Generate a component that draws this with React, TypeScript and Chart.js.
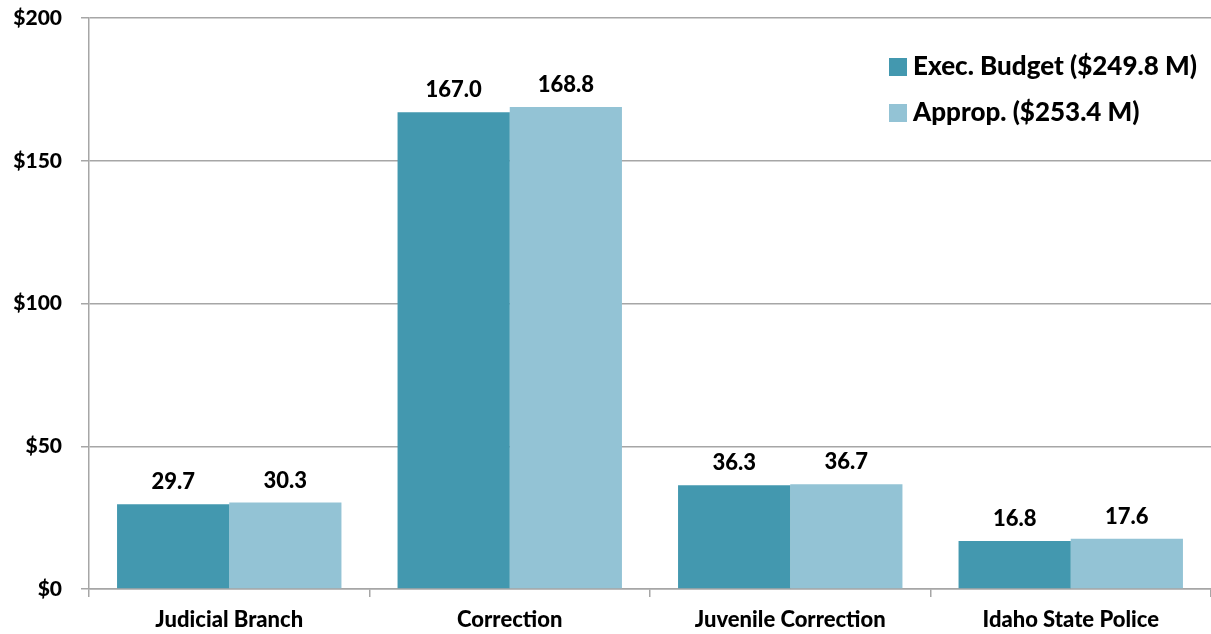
import React, { useEffect, useRef } from 'react';
import { Chart, registerables } from 'chart.js';

Chart.register(...registerables);

const categories = ['Judicial Branch', 'Correction', 'Juvenile Correction', 'Idaho State Police'];
const execBudget = [29.7, 167.0, 36.3, 16.8];
const appropValues = [30.3, 168.8, 36.7, 17.6];
const seriesNames = ['Exec. Budget ($249.8 M)', 'Approp. ($253.4 M)'];
const seriesColors = ['#4398AF', '#93C3D5'];
const yMin = 0;
const yMax = 200;
const yStep = 50;

const FONT = 'Lato';
const WEIGHT = '900';
const GRID = '#A6A6A6';

const valueLabels = {
  id: 'valueLabels',
  afterDatasetsDraw(chart: any) {
    const ctx = chart.ctx;
    ctx.save();
    ctx.font = `${WEIGHT} 22px ${FONT}`;
    ctx.fillStyle = '#000';
    ctx.textAlign = 'center';
    ctx.textBaseline = 'middle';
    chart.data.datasets.forEach((ds: any, i: number) => {
      const meta = chart.getDatasetMeta(i);
      meta.data.forEach((el: any, j: number) => {
        ctx.fillText(Number(ds.data[j]).toFixed(1), el.x, el.y - 22);
      });
    });
    ctx.restore();
  },
};

const insideLegend = {
  id: 'insideLegend',
  afterDraw(chart: any) {
    const ctx = chart.ctx;
    ctx.save();
    ctx.font = `${WEIGHT} 26px ${FONT}`;
    ctx.textBaseline = 'middle';
    ctx.textAlign = 'left';
    const x0 = 889;
    const rows = [67, 113];
    chart.data.datasets.forEach((ds: any, i: number) => {
      const cy = rows[i];
      ctx.fillStyle = ds.backgroundColor;
      ctx.fillRect(x0, cy - 9, 18, 18);
      ctx.fillStyle = '#000';
      ctx.fillText(ds.label, x0 + 24, cy);
    });
    ctx.restore();
  },
};

export default function App() {
  const ref = useRef<HTMLCanvasElement>(null);
  useEffect(() => {
    document.body.style.margin = '0';
    const canvas = ref.current;
    if (!canvas) return;
    const chart = new Chart(canvas, {
      type: 'bar',
      data: {
        labels: categories,
        datasets: [
          { label: seriesNames[0], data: execBudget, backgroundColor: seriesColors[0], categoryPercentage: 0.8, barPercentage: 1.0 },
          { label: seriesNames[1], data: appropValues, backgroundColor: seriesColors[1], categoryPercentage: 0.8, barPercentage: 1.0 },
        ],
      },
      options: {
        responsive: false,
        animation: false,
        layout: { padding: { top: 18, right: 0, left: 0, bottom: 0 } },
        plugins: { legend: { display: false }, tooltip: { enabled: false } },
        scales: {
          x: {
            grid: { display: true, drawOnChartArea: false, drawTicks: true, tickLength: 8, color: GRID, lineWidth: 1.5, offset: true },
            border: { display: true, color: GRID, width: 1.5 },
            ticks: { color: '#000', font: { family: FONT, weight: WEIGHT, size: 22 }, padding: 10, maxRotation: 0 },
            afterFit(scale: any) { scale.height = 45; scale.paddingLeft = 0; scale.paddingRight = 0; },
          },
          y: {
            min: yMin,
            max: yMax,
            grid: { color: GRID, lineWidth: 1.5, tickLength: 8 },
            border: { display: true, color: GRID, width: 1.5 },
            ticks: {
              stepSize: yStep,
              color: '#000',
              padding: 19,
              font: { family: FONT, weight: WEIGHT, size: 21 },
              callback: (v: any) => '$' + v,
            },
            afterFit(scale: any) { scale.width = 89; scale.paddingTop = 0; scale.paddingBottom = 0; },
          },
        },
      },
      plugins: [valueLabels, insideLegend],
    });
    return () => chart.destroy();
  }, []);
  return (
    <div style={{ position: 'absolute', left: 0, top: 0, width: 1211, height: 634 }}>
      <canvas ref={ref} width={1211} height={634} />
    </div>
  );
}
